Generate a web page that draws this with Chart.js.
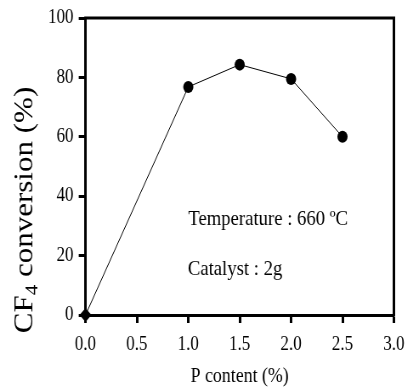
<!DOCTYPE html>
<html>
<head>
<meta charset="utf-8">
<script src="https://cdn.jsdelivr.net/npm/chart.js@4/dist/chart.umd.min.js"></script>
<style>
  html, body { margin: 0; padding: 0; overflow: hidden; background: #fff; width: 413px; height: 387px; }
  #wrap { width: 486px; height: 387px; transform: scaleX(0.8498); transform-origin: 0 0; }
  canvas { display: block; }
</style>
</head>
<body>
<div id="wrap"><canvas id="c" width="486" height="387"></canvas></div>
<script>
// ---- data ----
const pContent = [0.0, 1.0, 1.5, 2.0, 2.5];
const cf4Conversion = [0, 76.8, 84.3, 79.5, 60.0];
const xTickStep = 0.5;
const yTickStep = 20;
const xRange = [0, 3];
const yRange = [0, 100];
const xTitle = 'P content (%)';
const yTitleMain = 'CF';
const yTitleSub = '4';
const yTitleRest = ' conversion (%)';
const notes = [
  { text: 'Temperature : 660 ºC', x: 1.0, y: 30.4 },
  { text: 'Catalyst : 2g', x: 0.995, y: 13.6 }
];

const SERIF = '"Liberation Serif", "Times New Roman", serif';
const LW = 3;

const framePlugin = {
  id: 'frame',
  afterDraw(chart) {
    const ctx = chart.ctx;
    const a = chart.chartArea;
    const xs = chart.scales.x, ys = chart.scales.y;
    ctx.save();
    // top and right border
    ctx.strokeStyle = '#000';
    ctx.lineWidth = LW;
    ctx.lineCap = 'square';
    ctx.beginPath();
    ctx.moveTo(a.left, a.top);
    ctx.lineTo(a.right, a.top);
    ctx.lineTo(a.right, a.bottom);
    ctx.stroke();

    ctx.fillStyle = '#000';
    // annotations
    ctx.font = '22px ' + SERIF;
    ctx.textAlign = 'left';
    ctx.textBaseline = 'alphabetic';
    notes.forEach(n => {
      ctx.fillText(n.text, xs.getPixelForValue(n.x), ys.getPixelForValue(n.y));
    });

    // x title
    ctx.font = '21px ' + SERIF;
    ctx.textAlign = 'center';
    ctx.fillText(xTitle, (a.left + a.right) / 2, 382);

    // y title with subscript
    const big = '31px ' + SERIF, small = '21px ' + SERIF;
    ctx.font = big;
    const w1 = ctx.measureText(yTitleMain).width;
    const w3 = ctx.measureText(yTitleRest).width;
    ctx.font = small;
    const w2 = ctx.measureText(yTitleSub).width;
    const total = w1 + w2 + w3;
    ctx.translate(38, 210);
    ctx.rotate(-Math.PI / 2);
    ctx.textAlign = 'left';
    let x0 = -total / 2;
    ctx.font = big;
    ctx.fillText(yTitleMain, x0, 0);
    ctx.font = small;
    ctx.fillText(yTitleSub, x0 + w1, 6);
    ctx.font = big;
    ctx.fillText(yTitleRest, x0 + w1 + w2, 0);
    ctx.restore();
  }
};

new Chart(document.getElementById('c'), {
  type: 'line',
  data: {
    datasets: [{
      data: pContent.map((x, i) => ({ x: x, y: cf4Conversion[i] })),
      borderColor: '#000',
      borderWidth: 1,
      backgroundColor: '#000',
      pointBackgroundColor: '#000',
      pointBorderColor: '#000',
      pointBorderWidth: 0,
      pointStyle: pContent.map((x, i) => i === 0 ? 'rectRot' : 'circle'),
      pointRadius: pContent.map((x, i) => i === 0 ? 7 : 6),
      tension: 0,
      fill: false,
      clip: false
    }]
  },
  options: {
    responsive: false,
    animation: false,
    devicePixelRatio: 1,
    layout: { padding: { left: 0, top: 18, right: 17, bottom: 0 } },
    plugins: { legend: { display: false }, tooltip: { enabled: false } },
    scales: {
      x: {
        type: 'linear',
        min: xRange[0], max: xRange[1],
        afterFit(s) { s.height = 72; },
        ticks: {
          stepSize: xTickStep,
          color: '#000',
          padding: 10,
          maxRotation: 0,
          font: { family: SERIF, size: 20 },
          callback: v => Number(v).toFixed(1)
        },
        grid: { display: true, drawOnChartArea: false, drawTicks: true, tickLength: 8, tickWidth: LW, tickColor: '#000' },
        border: { display: true, color: '#000', width: LW }
      },
      y: {
        type: 'linear',
        min: yRange[0], max: yRange[1],
        afterFit(s) { s.width = 100.6; },
        ticks: {
          stepSize: yTickStep,
          color: '#000',
          padding: 6,
          font: { family: SERIF, size: 20 }
        },
        grid: { display: true, drawOnChartArea: false, drawTicks: true, tickLength: 8, tickWidth: LW, tickColor: '#000' },
        border: { display: true, color: '#000', width: LW }
      }
    }
  },
  plugins: [framePlugin]
});
</script>
</body>
</html>
